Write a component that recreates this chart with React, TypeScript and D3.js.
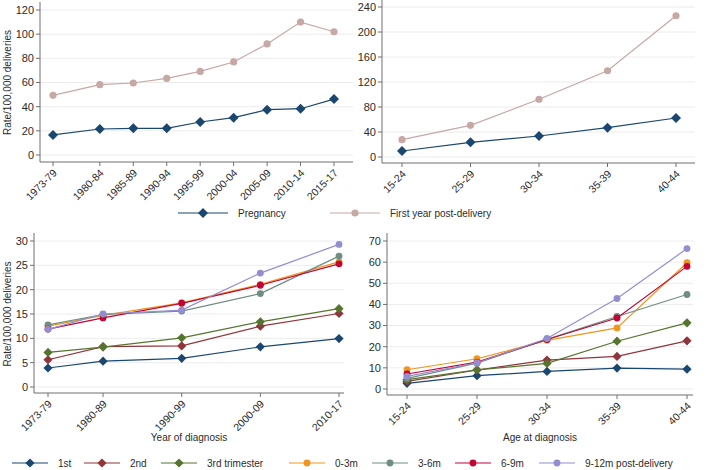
import * as d3 from 'd3'

// ---- data ----
const periodStarts = [1973, 1980, 1985, 1990, 1995, 2000, 2005, 2010, 2015]
const periodLabels = ['1973-79', '1980-84', '1985-89', '1990-94', '1995-99', '2000-04', '2005-09', '2010-14', '2015-17']
const pregnancyByPeriod = [16.6, 21.5, 22.1, 22.1, 27.3, 30.9, 37.5, 38.3, 46.3]
const postByPeriod = [49.4, 58.2, 59.6, 63.4, 69.2, 77, 91.9, 110, 102]

const ageLabels = ['15-24', '25-29', '30-34', '35-39', '40-44']
const pregnancyByAge = [9.6, 23.5, 33.6, 47, 62.4]
const postByAge = [27.7, 50.7, 92.3, 138, 226]

const decadeStarts = [1973, 1980, 1990, 2000, 2010]
const decadeLabels = ['1973-79', '1980-89', '1990-99', '2000-09', '2010-17']

const subgroupNames = ['1st', '2nd', '3rd trimester', '0-3m', '3-6m', '6-9m', '9-12m post-delivery']
const subgroupByDecade = [
  [3.9, 5.3, 5.9, 8.25, 9.95],
  [5.6, 8.3, 8.45, 12.5, 15.1],
  [7.1, 8.2, 10.1, 13.4, 16.1],
  [12.5, 14.7, 17.3, 21.1, 25.7],
  [12.75, 14.9, 15.6, 19.2, 26.9],
  [11.9, 14.2, 17.2, 20.9, 25.3],
  [11.85, 15, 15.8, 23.4, 29.3],
]
const subgroupByAge = [
  [2.7, 6.3, 8.3, 9.9, 9.4],
  [3.6, 9.0, 13.7, 15.4, 22.8],
  [4.4, 9.0, 12.1, 22.6, 31.3],
  [9.1, 14.3, 23, 28.9, 59.7],
  [5, 12.2, 23.5, 34.3, 44.7],
  [7.1, 12.7, 23.4, 33.6, 58],
  [6, 12.4, 23.9, 42.8, 66.4],
]

const topTicksLeft = [0, 20, 40, 60, 80, 100, 120]
const topTicksRight = [0, 40, 80, 120, 160, 200, 240]
const botTicksLeft = [0, 5, 10, 15, 20, 25, 30]
const botTicksRight = [0, 10, 20, 30, 40, 50, 60, 70]

// ---- styling ----
const FONT = 'Liberation Sans, Arial, Helvetica, sans-serif'
const TXT = '#2b2b2b'
const AXIS = '#6f6f6f'
const GRID = '#ececec'
const topColors = ['#1a476f', '#c6a8a5']
const subColors = ['#1a476f', '#90353b', '#55752f', '#f0961e', '#6e8e84', '#c10534', '#938dd2']
const subShapes = ['diamond', 'diamond', 'diamond', 'circle', 'circle', 'circle', 'circle']

type Panel = {
  left: number
  right: number
  top: number
  y0: number
  axisY: number
  yMax: number
  ticks: number[]
  x: (i: number) => number
  labels: string[]
  yTitle?: string
  xTitle?: string
  series: { values: number[]; color: string; shape: string; size: number }[]
}

function Marker({ shape, x, y, color, size }: { shape: string; x: number; y: number; color: string; size: number }) {
  if (shape === 'diamond') {
    const r = size
    return <path d={`M${x},${y - r}L${x + r},${y}L${x},${y + r}L${x - r},${y}Z`} fill={color} />
  }
  return <circle cx={x} cy={y} r={size * 0.78} fill={color} />
}

function PanelView({ p }: { p: Panel }) {
  const y = d3.scaleLinear().domain([0, p.yMax]).range([p.y0, p.top])
  const line = d3
    .line<number>()
    .x((_, i) => p.x(i))
    .y((d) => y(d))
  return (
    <g>
      {p.ticks.map((t) => (
        <g key={t}>
          <line x1={p.left} x2={p.right} y1={y(t)} y2={y(t)} stroke={GRID} strokeWidth={1} />
          <line x1={p.left - 4} x2={p.left} y1={y(t)} y2={y(t)} stroke={AXIS} />
          <text x={p.left - 6} y={y(t)} dy="0.35em" textAnchor="end" fontSize={11} fill={TXT}>
            {t}
          </text>
        </g>
      ))}
      <line x1={p.left} x2={p.left} y1={p.top - 8} y2={p.axisY} stroke={AXIS} />
      <line x1={p.left} x2={p.right} y1={p.axisY} y2={p.axisY} stroke={AXIS} />
      {p.labels.map((l, i) => (
        <g key={l}>
          <line x1={p.x(i)} x2={p.x(i)} y1={p.axisY} y2={p.axisY + 4} stroke={AXIS} />
          <text
            transform={`translate(${p.x(i) + 2},${p.axisY + 9}) rotate(-45)`}
            dy="0.35em"
            textAnchor="end"
            fontSize={10.5}
            fill={TXT}
          >
            {l}
          </text>
        </g>
      ))}
      {p.series.map((s, si) => (
        <g key={si}>
          <path d={line(s.values) ?? ''} fill="none" stroke={s.color} strokeWidth={1.2} />
          {s.values.map((v, i) => (
            <Marker key={i} shape={s.shape} x={p.x(i)} y={y(v)} color={s.color} size={s.size} />
          ))}
        </g>
      ))}
      {p.yTitle && (
        <text
          transform={`translate(11,${(p.top + p.y0) / 2}) rotate(-90)`}
          textAnchor="middle"
          fontSize={10}
          fill={TXT}
        >
          {p.yTitle}
        </text>
      )}
      {p.xTitle && (
        <text x={(p.left + p.right) / 2} y={441} textAnchor="middle" fontSize={10} fill={TXT}>
          {p.xTitle}
        </text>
      )}
    </g>
  )
}

function LegendItem({ x, y, half, color, shape, size, label }: { x: number; y: number; half: number; color: string; shape: string; size: number; label: string }) {
  return (
    <g>
      <line x1={x - half} x2={x + half} y1={y} y2={y} stroke={color} strokeWidth={1.2} />
      <Marker shape={shape} x={x} y={y} color={color} size={size} />
      <text x={x + half + 10} y={y} dy="0.35em" fontSize={10} fill={TXT}>
        {label}
      </text>
    </g>
  )
}

export default function App() {
  const tlX = d3.scaleLinear().domain([periodStarts[0], periodStarts[periodStarts.length - 1]]).range([53, 334])
  const trX = d3.scalePoint<number>().domain(d3.range(ageLabels.length)).range([402, 676])
  const blX = d3.scaleLinear().domain([decadeStarts[0], decadeStarts[decadeStarts.length - 1]]).range([48, 339])
  const brX = d3.scalePoint<number>().domain(d3.range(ageLabels.length)).range([407, 687])

  const panels: Panel[] = [
    {
      left: 40, right: 353, top: 10, y0: 155, axisY: 162, yMax: 120, ticks: topTicksLeft,
      x: (i) => tlX(periodStarts[i]), labels: periodLabels, yTitle: 'Rate/100,000 deliveries',
      series: [
        { values: pregnancyByPeriod, color: topColors[0], shape: 'diamond', size: 5 },
        { values: postByPeriod, color: topColors[1], shape: 'circle', size: 4.6 },
      ],
    },
    {
      left: 382, right: 695, top: 7, y0: 157, axisY: 163, yMax: 240, ticks: topTicksRight,
      x: (i) => trX(i) ?? 0, labels: ageLabels,
      series: [
        { values: pregnancyByAge, color: topColors[0], shape: 'diamond', size: 5 },
        { values: postByAge, color: topColors[1], shape: 'circle', size: 4.6 },
      ],
    },
    {
      left: 34, right: 344, top: 241, y0: 387, axisY: 393, yMax: 30, ticks: botTicksLeft,
      x: (i) => blX(decadeStarts[i]), labels: decadeLabels, yTitle: 'Rate/100,000 deliveries', xTitle: 'Year of diagnosis',
      series: subgroupByDecade.map((v, k) => ({ values: v, color: subColors[k], shape: subShapes[k], size: subShapes[k] === 'diamond' ? 4.6 : 4.4 })),
    },
    {
      left: 387, right: 693, top: 241, y0: 389, axisY: 395, yMax: 70, ticks: botTicksRight,
      x: (i) => brX(i) ?? 0, labels: ageLabels, xTitle: 'Age at diagnosis',
      series: subgroupByAge.map((v, k) => ({ values: v, color: subColors[k], shape: subShapes[k], size: subShapes[k] === 'diamond' ? 4.6 : 4.4 })),
    },
  ]

  const legendX = [30, 102, 179, 307, 390, 473, 557]

  return (
    <svg
      width={709}
      height={470}
      style={{ position: 'absolute', left: 0, top: 0, background: '#fff' }}
      fontFamily={FONT}
    >
      <rect width={709} height={470} fill="#fff" />
      {panels.map((p, i) => (
        <PanelView key={i} p={p} />
      ))}
      <LegendItem x={203} y={213} half={25} color={topColors[0]} shape="diamond" size={5} label="Pregnancy" />
      <LegendItem x={355} y={213} half={25} color={topColors[1]} shape="circle" size={4.6} label="First year post-delivery" />
      {subgroupNames.map((n, k) => (
        <LegendItem
          key={n}
          x={legendX[k]}
          y={463}
          half={18}
          color={subColors[k]}
          shape={subShapes[k]}
          size={subShapes[k] === 'diamond' ? 4.6 : 4.4}
          label={n}
        />
      ))}
    </svg>
  )
}
